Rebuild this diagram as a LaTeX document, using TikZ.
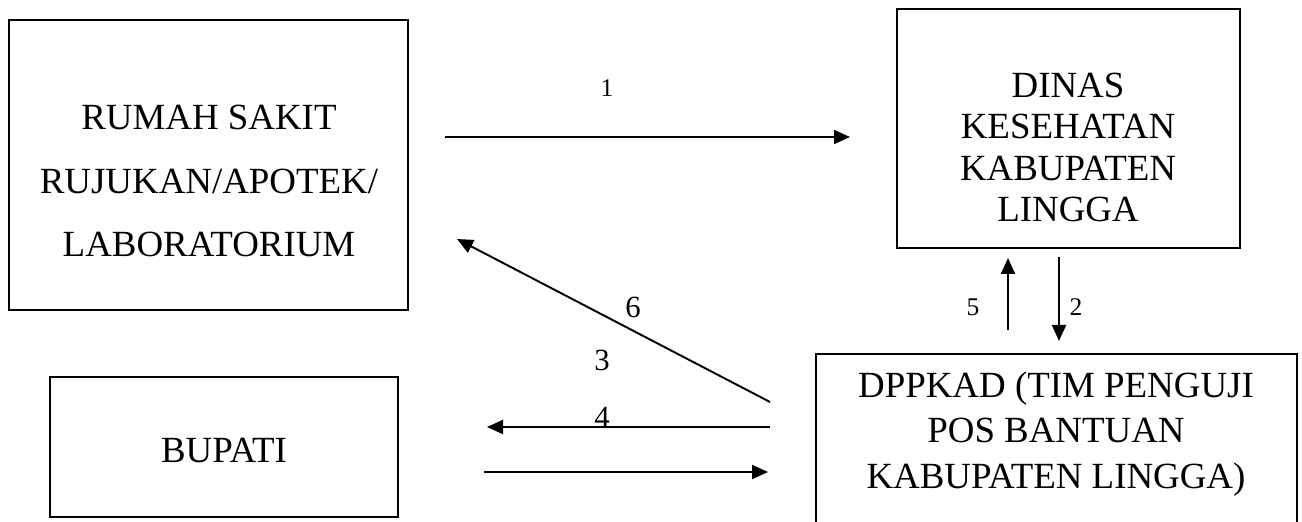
\documentclass[tikz,border=0pt]{standalone}
\usepackage{fontspec}
\setmainfont{Liberation Serif}
\usetikzlibrary{arrows.meta,positioning}

\tikzset{
  box/.style={draw,line width=1.1pt,inner sep=0pt},
  boxtext/.style={align=center,inner sep=0pt},
  numlbl/.style={inner sep=0pt,font=\fontsize{14.5}{16}\selectfont},
  numbig/.style={inner sep=0pt,font=\fontsize{17.5}{19}\selectfont}
}

\begin{document}
\begin{tikzpicture}[line width=1.1pt,>={Triangle[length=0.32cm,width=0.28cm]}]
\useasboundingbox (0,0) rectangle (26.04,10.42);
\clip (0,0) rectangle (26.04,10.42);

% boxes
\node[box,minimum width=7.98cm,minimum height=5.8cm] (rs) at (4.17,7.12) {};
\node[boxtext,font=\fontsize{21}{36.4}\selectfont] (rstext) at (4.18,6.8)
  {RUMAH SAKIT\\RUJUKAN/APOTEK/\\LABORATORIUM};
\node[box,minimum width=6.86cm,minimum height=4.78cm] (dinas) at (21.37,7.85) {};
\node[boxtext,font=\fontsize{21}{23.6}\selectfont] (dinastext) at (21.36,7.47)
  {DINAS\\KESEHATAN\\KABUPATEN\\LINGGA};
\node[box,minimum width=6.96cm,minimum height=2.8cm] (bupati) at (4.48,1.48) {};
\node[boxtext,font=\fontsize{21}{24}\selectfont] (bupatitext) at (4.48,1.42) {BUPATI};
\node[box,minimum width=9.62cm,minimum height=3.64cm] (dppkad) at (21.13,1.52) {};
\node[boxtext,font=\fontsize{21}{26.1}\selectfont] (dppkadtext) at (21.12,1.74)
  {DPPKAD (TIM PENGUJI\\POS BANTUAN\\KABUPATEN LINGGA)};

% arrow ends
\coordinate (a1s) at (8.9,7.68);
\coordinate (a1e) at (17.0,7.68);
\coordinate (a5s) at (20.16,3.82);
\coordinate (a5e) at (20.16,5.26);
\coordinate (a2s) at (21.18,5.28);
\coordinate (a2e) at (21.18,3.6);
\coordinate (a6s) at (15.4,2.38);
\coordinate (a6e) at (9.14,5.64);
\coordinate (a4s) at (15.4,1.88);
\coordinate (a4e) at (9.74,1.88);
\coordinate (a3s) at (9.68,0.98);
\coordinate (a3e) at (15.36,0.98);

\draw[->] (a1s) -- (a1e);
\draw[->] (a5s) -- (a5e);
\draw[->] (a2s) -- (a2e);
\draw[->] (a6s) -- (a6e);
\draw[->] (a4s) -- (a4e);
\draw[->] (a3s) -- (a3e);

% numbers
\node[numlbl] (n1) at (12.14,8.66) {1};
\node[numlbl] (n5) at (19.46,4.28) {5};
\node[numlbl] (n2) at (21.52,4.28) {2};
\node[numbig] (n6) at (12.66,4.28) {6};
\node[numbig] (n3) at (12.04,3.22) {3};
\node[numbig] (n4) at (12.04,2.08) {4};
\end{tikzpicture}
\end{document}
